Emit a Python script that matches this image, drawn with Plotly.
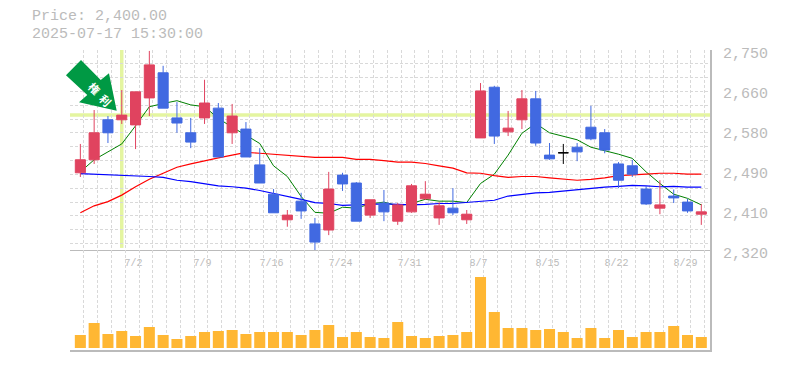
import plotly.graph_objects as go

dates = ["6/26","6/27","6/30","7/1","7/2","7/3","7/4","7/7","7/8","7/9","7/10","7/11","7/14","7/15","7/16","7/17",
         "7/18","7/22","7/23","7/24","7/25","7/28","7/29","7/30","7/31","8/1","8/4","8/5","8/6","8/7","8/8","8/12",
         "8/13","8/14","8/15","8/18","8/19","8/20","8/21","8/22","8/25","8/26","8/27","8/28","8/29","9/1"]
opens = [2486,2514,2600,2600,2589,2647,2701,2604,2572,2604,2625,2572,2580,2503,2440,2385,2425,2376,2363,2481,2464,2395,2421,2382,
         2402,2430,2389,2410,2385,2561,2670,2574,2600,2645,2524,2529,2541,2584,2572,2505,2501,2451,2410,2436,2423,2397]
highs = [2548,2621,2608,2664,2660,2748,2716,2638,2604,2686,2636,2634,2595,2539,2451,2406,2443,2389,2488,2486,2466,2428,2449,2421,
         2462,2468,2423,2453,2406,2679,2673,2619,2664,2662,2550,2548,2550,2630,2580,2509,2514,2458,2470,2450,2430,2419]
lows = [2477,2505,2550,2591,2537,2608,2625,2572,2539,2591,2520,2548,2520,2464,2400,2370,2387,2320,2352,2447,2382,2389,2382,2374,
        2400,2428,2374,2395,2376,2561,2548,2565,2580,2544,2514,2505,2511,2556,2528,2453,2477,2417,2397,2421,2400,2374]
closes = [2514,2572,2572,2610,2660,2718,2625,2593,2552,2636,2520,2608,2520,2464,2400,2395,2404,2337,2451,2462,2382,2428,2402,2417,
          2458,2440,2415,2400,2397,2662,2565,2582,2645,2550,2516,2529,2531,2559,2535,2470,2483,2419,2417,2432,2404,2402]
ma_short = [2488,2514,2531,2548,2587,2628,2635,2641,2632,2628,2603,2584,2567,2549,2501,2478,2435,2401,2399,2412,2410,2419,2423,2415,
            2420,2429,2425,2425,2422,2463,2483,2524,2571,2592,2572,2564,2557,2541,2534,2526,2517,2488,2463,2440,2431,2417]
ma_mid = [2400,2415,2424,2438,2456,2472,2485,2498,2505,2512,2518,2524,2530,2528,2526,2523,2521,2519,2519,2519,2515,2515,2512,2509,
          2509,2506,2501,2496,2486,2485,2480,2476,2478,2478,2475,2473,2470,2472,2475,2480,2481,2483,2485,2485,2483,2483]
ma_long = [2484,2483,2481,2481,2479,2478,2476,2470,2467,2463,2458,2456,2453,2448,2442,2435,2429,2422,2420,2416,2417,2419,2419,2418,
           2417,2418,2420,2420,2422,2425,2427,2436,2440,2443,2444,2447,2450,2453,2455,2457,2459,2458,2456,2457,2455,2455]
volumes = [13,25,14,17,12,21,13,9,12,16,17,18,14,16,16,16,13,18,23,11,16,11,10,26,
           12,10,12,13,16,71,36,20,20,18,19,16,10,20,10,18,11,16,16,22,13,11]

price_ticks = [2750,2664,2578,2492,2406,2320]
price_labels = ["2,750","2,660","2,580","2,490","2,410","2,320"]
date_label_idx = [4,9,14,19,24,29,34,39,44]
marker_idx = 3
marker_price = 2610
doji_idx = 35

GRAY = "#bbbbbb"
GRID = "#d9d9d9"
YELLOW = "#e4f5a0"
RED = "#e0435f"
BLUE = "#4169e1"
MONO = "Liberation Mono, monospace"
x = list(range(len(dates)))
others = [i for i in x if i != doji_idx]

fig = go.Figure()
for vals, col, w in ((ma_short, "#008000", 1), (ma_mid, "#ff0000", 1.2), (ma_long, "#0000ff", 1.2)):
    fig.add_trace(go.Scatter(x=x, y=vals, mode="lines", line=dict(color=col, width=w), xaxis="x", yaxis="y", showlegend=False))
fig.add_trace(go.Candlestick(
    x=others, open=[opens[i] for i in others], high=[highs[i] for i in others],
    low=[lows[i] for i in others], close=[closes[i] for i in others],
    increasing=dict(line=dict(color=RED, width=1), fillcolor=RED),
    decreasing=dict(line=dict(color=BLUE, width=1), fillcolor=BLUE),
    whiskerwidth=0, xaxis="x", yaxis="y3", showlegend=False))
fig.add_trace(go.Candlestick(
    x=[doji_idx], open=[opens[doji_idx]], high=[highs[doji_idx]], low=[lows[doji_idx]], close=[closes[doji_idx]],
    increasing=dict(line=dict(color="#000000", width=1), fillcolor="#000000"),
    decreasing=dict(line=dict(color="#000000", width=1), fillcolor="#000000"),
    whiskerwidth=0, xaxis="x", yaxis="y3", showlegend=False))
fig.add_trace(go.Bar(x=x, y=volumes, marker=dict(color="#ffb733", line=dict(width=0)), width=0.8,
                     xaxis="x2", yaxis="y2", showlegend=False))

xrange = [-0.75, 45.63]
yrange = [2320, 2750]
xminor = dict(showgrid=True, gridcolor=GRID, griddash="3px,2px", gridwidth=1, tickmode="linear", tick0=0.25, dtick=1, ticks="")
yminor = dict(showgrid=True, gridcolor=GRID, griddash="3px,2px", gridwidth=1, tickmode="linear", tick0=2749.9, dtick=29.7, ticks="")

px = lambda a: (a - 70) / 640
py = lambda b: 1 - (b - 50) / 300
arrow = [(81, 60), (66, 75.3), (87.3, 95), (79, 102.3), (116.7, 110.7), (109, 73.3), (100.7, 80)]
arrow_path = "M" + " L".join(f"{px(a):.4f},{py(b):.4f}" for a, b in arrow) + " Z"

fig.update_layout(
    width=777, height=362, margin=dict(l=62, r=75, t=42, b=20, autoexpand=False),
    paper_bgcolor="white", plot_bgcolor="white", showlegend=False, boxgap=0.27, boxgroupgap=0,
    font=dict(family=MONO, color=GRAY),
    xaxis=dict(domain=[0, 1], range=xrange, anchor="y", showgrid=False, zeroline=False, minor=xminor,
               tickmode="array", tickvals=date_label_idx, ticktext=[dates[i] for i in date_label_idx],
               tickfont=dict(family=MONO, size=10, color=GRAY), ticks="outside", ticklen=3, tickcolor="rgba(0,0,0,0)",
               ticklabelshift=-2, showline=True, linecolor=GRAY, linewidth=1, rangeslider=dict(visible=False)),
    xaxis2=dict(domain=[0, 1], range=xrange, anchor="y2", matches="x", showgrid=False, zeroline=False, minor=xminor,
                showticklabels=False, tickmode="array", tickvals=date_label_idx,
                showline=True, linecolor=GRAY, linewidth=2),
    yaxis=dict(domain=[1/3, 1], range=yrange, side="right", anchor="x", showgrid=False, zeroline=False, minor=yminor,
               tickmode="array", tickvals=price_ticks, ticktext=price_labels,
               tickfont=dict(family=MONO, size=15, color=GRAY), ticks="", ticklabelstandoff=8, ticklabelshift=3,
               showline=True, linecolor=GRAY, linewidth=2),
    yaxis2=dict(domain=[0, 1/3], range=[-2, 98], side="right", anchor="x2", showgrid=False, zeroline=False,
                showticklabels=False, ticks="", showline=True, linecolor=GRAY, linewidth=2),
    yaxis3=dict(domain=[1/3, 1], range=yrange, overlaying="y", side="right", anchor="x", visible=False),
    shapes=[
        dict(type="line", xref="x", yref="paper", x0=marker_idx, x1=marker_idx, y0=1/3 + 0.007, y1=1, line=dict(color=YELLOW, width=3.5), layer="below"),
        dict(type="line", xref="paper", yref="y", x0=0, x1=1, y0=marker_price, y1=marker_price, line=dict(color=YELLOW, width=3.5), layer="below"),
        dict(type="path", xref="paper", yref="paper", path=arrow_path, fillcolor="#009944", line=dict(width=0), layer="above"),
    ],
    annotations=[
        dict(text="Price: 2,400.00", xref="paper", yref="paper", x=px(30), y=py(16.5), xanchor="left", yanchor="middle",
             showarrow=False, font=dict(family=MONO, size=15, color=GRAY)),
        dict(text="2025-07-17 15:30:00", xref="paper", yref="paper", x=px(30), y=py(34), xanchor="left", yanchor="middle",
             showarrow=False, font=dict(family=MONO, size=15, color=GRAY)),
        dict(text="権", xref="paper", yref="paper", x=px(82), y=py(76), showarrow=False, textangle=45,
             font=dict(family="Noto Sans CJK JP", size=11, color="white", weight="bold")),
        dict(text="利", xref="paper", yref="paper", x=px(93), y=py(88), showarrow=False, textangle=45,
             font=dict(family="Noto Sans CJK JP", size=11, color="white", weight="bold")),
    ],
)
fig.write_html("out.html")
